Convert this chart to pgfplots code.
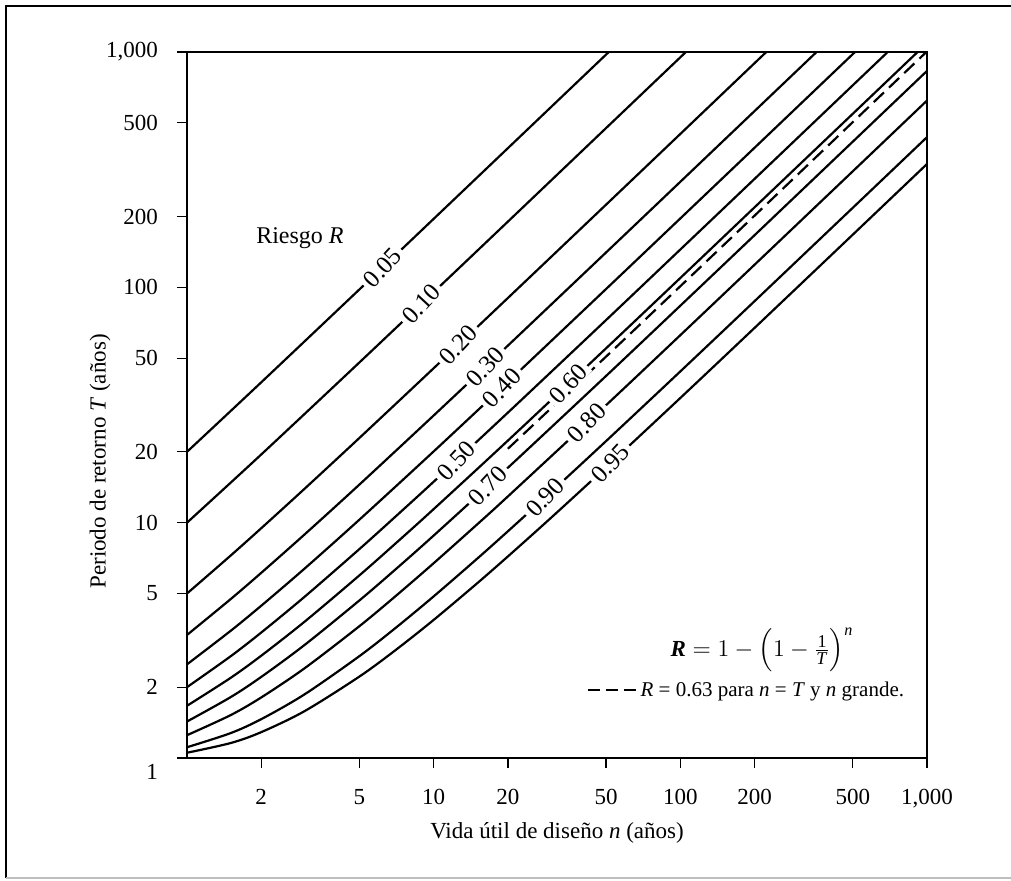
\documentclass[border=0pt]{standalone}
\usepackage{fontspec}
\usepackage{amsmath}
\setmainfont{Liberation Serif}
\usepackage{pgfplots}
\pgfplotsset{compat=1.18}
\newcommand{\vi}[1]{\textit{#1}}
\begin{document}
\begin{tikzpicture}
\useasboundingbox (0,0) rectangle (505.5pt,440pt);
\draw[line width=0.9pt] (3pt,1pt) -- (3pt,437pt) -- (510pt,437pt);
\draw[line width=0.6pt, black!25] (3pt,1pt) -- (510pt,1pt);
\begin{axis}[
  at={(93.5pt,61pt)}, anchor=south west,
  scale only axis, width=370pt, height=353pt,
  xmode=log, ymode=log,
  xmin=1, xmax=1000, ymin=1, ymax=1000,
  xtick={2,5,10,20,50,100,200,500,1000},
  xticklabels={2,5,10,20,50,100,200,500,{1,000}},
  ytick={1,2,5,10,20,50,100,200,500,1000},
  yticklabels={{\raisebox{-7pt}[\height][\depth]{1}},2,5,10,20,50,100,200,500,{1,000}},
  minor xtick={}, minor ytick={},
  tick pos=left, tick align=outside,
  major tick length=5pt,
  tick style={line width=0.6pt, black},
  axis line style={line width=0.6pt},
  ticklabel style={font=\fontsize{11.5}{13}\selectfont},
  xticklabel style={yshift=-7pt},
  yticklabel style={xshift=-6pt},
  label style={font=\fontsize{11.5}{13}\selectfont},
  xlabel={Vida útil de diseño \vi{n} (años)},
  ylabel={Periodo de retorno \vi{T} (años)},
  xlabel style={at={(axis description cs:0.5,-0.106)}, anchor=center},
  ylabel style={at={(axis description cs:-0.1176,0.42)}, anchor=center, rotate=0},
  legend style={draw=none, fill=none, at={(rel axis cs:0.975,0.096)}, anchor=east,
    font=\fontsize{10.5}{13}\selectfont, inner sep=0pt},
  legend image code/.code={\draw[line width=1.1pt, dash pattern=on 6pt off 3pt] (0pt,0pt) -- (24pt,0pt);},
  every axis plot/.append style={line width=1.1pt, black, smooth},
]
% R = 0.05
\addplot[forget plot] coordinates {(1,20) (2,39.49) (5,97.98) (10,195.46) (20,390.4) (50,975.3) (60,1170)};
% R = 0.10
\addplot[forget plot] coordinates {(1,10) (2,19.49) (5,47.96) (10,95.41) (20,190.3) (50,475.1) (100,949.6) (120,1139)};
% R = 0.20
\addplot[forget plot] coordinates {(1,5) (1.5,7.235) (2,9.472) (3,13.95) (5,22.91) (10,45.32) (20,90.13) (50,224.6) (100,448.6) (200,896.8) (250,1120.3)};
% R = 0.30
\addplot[forget plot] coordinates {(1,3.333) (1.5,4.725) (2,6.122) (3,8.921) (5,14.52) (10,28.54) (20,56.57) (50,140.7) (100,280.9) (200,561.2) (400,1121.5)};
% R = 0.40
\addplot[forget plot] coordinates {(1,2.5) (1.5,3.465) (2,4.437) (3,6.387) (5,10.30) (10,20.08) (20,39.65) (50,98.38) (100,196.3) (200,392.0) (500,979.3) (600,1175)};
% R = 0.50
\addplot[forget plot] coordinates {(1,2) (1.5,2.702) (2,3.414) (3,4.847) (5,7.725) (7,10.61) (10,14.93) (20,29.36) (50,72.63) (100,144.8) (200,289.0) (500,721.8) (1000,1443)};
% R = 0.60
\addplot[forget plot] coordinates {(1,1.667) (1.5,2.188) (2,2.721) (3,3.799) (5,5.972) (7,8.151) (10,11.42) (20,22.33) (50,55.07) (100,109.6) (200,218.8) (500,546.2) (1000,1092)};
% R = 0.70
\addplot[forget plot] coordinates {(1,1.429) (1.5,1.812) (2,2.211) (3,3.025) (5,4.673) (7,6.328) (10,8.816) (20,17.12) (50,42.03) (100,83.56) (200,166.6) (500,415.8) (1000,831.1)};
% R = 0.80
\addplot[forget plot] coordinates {(1,1.25) (1.5,1.520) (2,1.809) (3,2.408) (5,3.633) (7,4.869) (10,6.727) (15,9.829) (20,12.93) (50,31.57) (100,62.63) (200,124.8) (500,311.2) (1000,621.8)};
% R = 0.90
\addplot[forget plot] coordinates {(1,1.111) (1.5,1.275) (2,1.4625) (3,1.866) (5,2.710) (7,3.567) (10,4.862) (15,7.027) (20,9.195) (30,13.54) (50,22.22) (100,43.93) (200,87.36) (500,217.7) (1000,434.8)};
% R = 0.95
\addplot[forget plot] coordinates {(1,1.053) (1.5,1.157) (2,1.288) (3,1.583) (5,2.219) (7,2.872) (10,3.863) (15,5.524) (20,7.189) (30,10.52) (50,17.20) (100,33.88) (200,67.26) (500,167.4) (1000,334.3)};
% R = 0.63 (dashed)
\addplot[dash pattern=on 7pt off 3.5pt] coordinates {(20,20.62) (50,50.79) (100,101.1) (200,201.7) (500,503.4) (1000,1006)};
\addlegendentry{\vi{R} = 0.63 para \vi{n} = \vi{T} y \vi{n} grande.}

\begin{scope}[every node/.style={fill=white, inner xsep=2pt, inner ysep=0pt, rotate=47, font=\fontsize{12.5}{13}\selectfont}]
\node at (axis cs:6.2,121.4) {0.05};
\node at (axis cs:8.9,85.0) {0.10};
\node at (axis cs:12.6,56.9) {0.20};
\node at (axis cs:16.2,45.9) {0.30};
\node at (axis cs:18.9,37.5) {0.40};
\node at (axis cs:12.35,18.3) {0.50};
\node at (axis cs:35.2,38.9) {0.60};
\node at (axis cs:16.6,14.3) {0.70};
\node at (axis cs:41.8,26.5) {0.80};
\node at (axis cs:28.3,12.8) {0.90};
\node at (axis cs:52,17.86) {0.95};
\end{scope}
\node[font=\fontsize{12}{13}\selectfont] at (axis cs:2.87,162) {Riesgo \vi{R}};
\node[anchor=east, font=\fontsize{11.5}{13}\selectfont] at (rel axis cs:0.91,0.153)
  {$\textit{\textbf{R}} = 1 - \Bigl(1 - \frac{\mbox{\fontsize{9}{9}\selectfont 1}}{\mbox{\fontsize{9}{9}\selectfont\textit{T}}}\Bigr)^{\textit{n}}$};
\end{axis}
\end{tikzpicture}
\end{document}
